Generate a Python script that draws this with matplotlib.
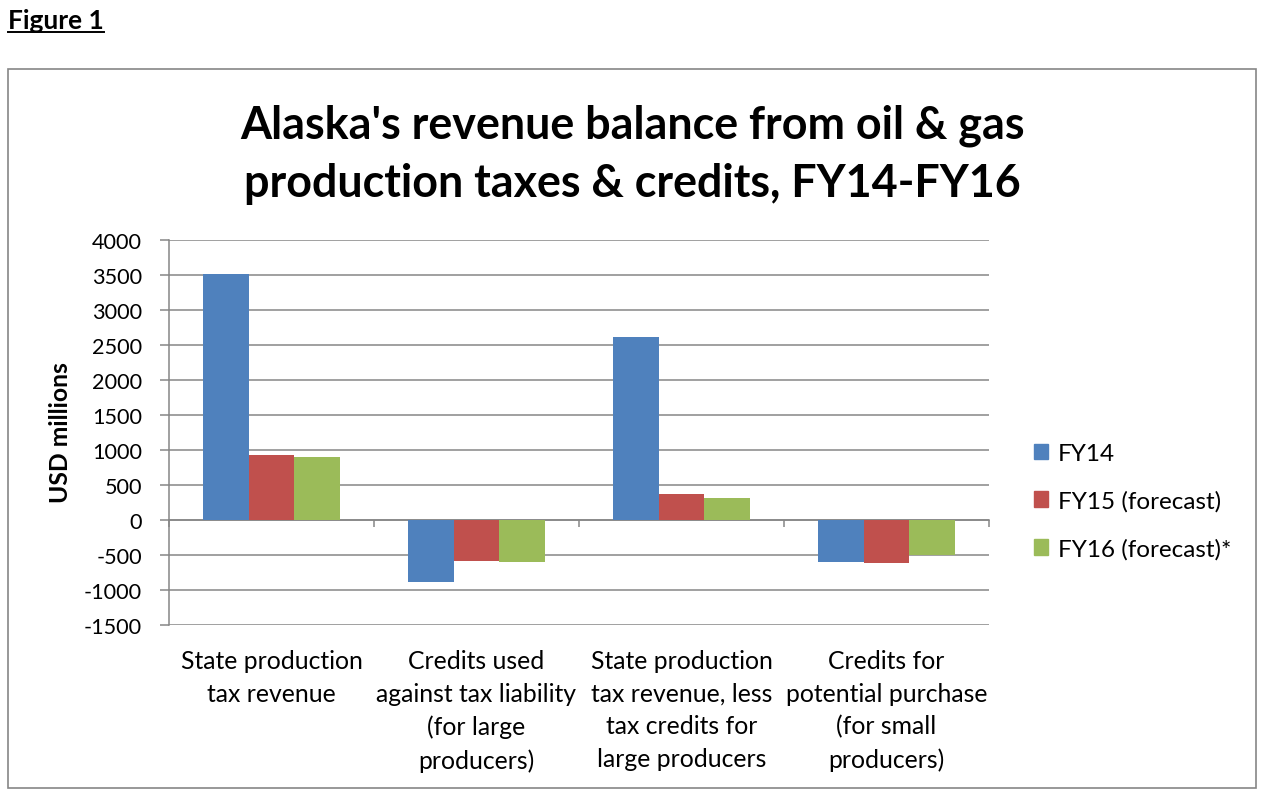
import matplotlib
matplotlib.use("Agg")
import matplotlib.pyplot as plt
import numpy as np
from matplotlib.patches import Rectangle, Patch
from matplotlib.lines import Line2D
import matplotlib.transforms as mtransforms

plt.rcParams['font.family'] = ['Lato', 'DejaVu Sans']

# data (USD millions)
categories = ["State production\ntax revenue",
              "Credits used\nagainst tax liability\n(for large\nproducers)",
              "State production\ntax revenue, less\ntax credits for\nlarge producers",
              "Credits for\npotential purchase\n(for small\nproducers)"]
series_names = ["FY14", "FY15 (forecast)", "FY16 (forecast)*"]
fy14 = [3510, -890, 2610, -595]
fy15 = [930, -580, 365, -620]
fy16 = [905, -595, 320, -505]
yticks = list(range(-1500, 4001, 500))

COLORS = ["#4F81BD", "#C0504D", "#9BBB59"]
GRID = "#868686"
W, H = 1273, 803

fig = plt.figure(figsize=(W / 100, H / 100), dpi=100)

# outer chart border
fig.add_artist(Rectangle((8 / W, 1 - 789 / H), (1256 - 8) / W, (789 - 70) / H,
                         transform=fig.transFigure, fill=False, ec=GRID, lw=1.2))

# "Figure 1" heading, underlined
t = fig.text(8 / W, 1 - 29 / H, "Figure 1", fontsize=19, fontweight="bold",
             ha="left", va="baseline")
fig.canvas.draw()
bb = t.get_window_extent()
yu = 1 - 33 / H
fig.add_artist(Line2D([bb.x0 / W, bb.x1 / W], [yu, yu], transform=fig.transFigure,
                      color="black", lw=1.4))

fig.text(632 / W, 1 - 155 / H,
         "Alaska's revenue balance from oil & gas\nproduction taxes & credits, FY14-FY16",
         ha="center", va="center", fontsize=32.3, fontweight="bold", linespacing=1.48)

ax = fig.add_axes([169 / W, 1 - 626 / H, (989 - 169) / W, (626 - 241) / H])
x = np.arange(len(categories))
bw = 1 / 4.5
for i, (vals, name) in enumerate(zip([fy14, fy15, fy16], series_names)):
    ax.bar(x + (i - 1) * bw, vals, width=bw, color=COLORS[i], label=name, zorder=3)

ax.set_xlim(-0.5, len(categories) - 0.5)
ax.set_ylim(yticks[0], yticks[-1])
ax.set_yticks(yticks)
ax.set_yticklabels([str(v) for v in yticks], fontsize=15.6)
ax.yaxis.grid(True, color=GRID, lw=1.1, zorder=0)
ax.set_axisbelow(True)

for s in ["top", "right"]:
    ax.spines[s].set_visible(False)
ax.spines["left"].set_color(GRID)
ax.spines["left"].set_linewidth(1.1)
ax.spines["bottom"].set_position(("data", 0))
ax.spines["bottom"].set_color(GRID)
ax.spines["bottom"].set_linewidth(1.1)
ax.tick_params(axis="y", direction="out", length=6.5, width=1.1, color=GRID, pad=13)

ax.set_xticks(np.arange(-0.5, len(categories), 1.0))
ax.set_xticklabels([])
ax.tick_params(axis="x", direction="out", length=5, width=1.1, color=GRID)

trans = mtransforms.blended_transform_factory(ax.transData, ax.transAxes)
for xi, lab in zip(x, categories):
    ax.text(xi, -0.063, lab, transform=trans, ha="center", va="top",
            fontsize=17.8, linespacing=1.5)

ax.set_ylabel("USD millions", fontsize=17.8, fontweight="bold")
ax.yaxis.set_label_coords(60 / W, 0.5, transform=fig.transFigure)
ax.yaxis.label.set_va("center")
ax.yaxis.label.set_y(1 - 433 / H)

handles = [Patch(color=c) for c in COLORS]
fig.legend(handles, series_names, loc="upper left",
           bbox_to_anchor=(1012 / W, 1 - 422 / H), frameon=False, fontsize=17.5,
           handlelength=0.6, handleheight=0.6, handletextpad=0.4, labelspacing=1.08)

fig.savefig("out.png", dpi=100, facecolor="white")
